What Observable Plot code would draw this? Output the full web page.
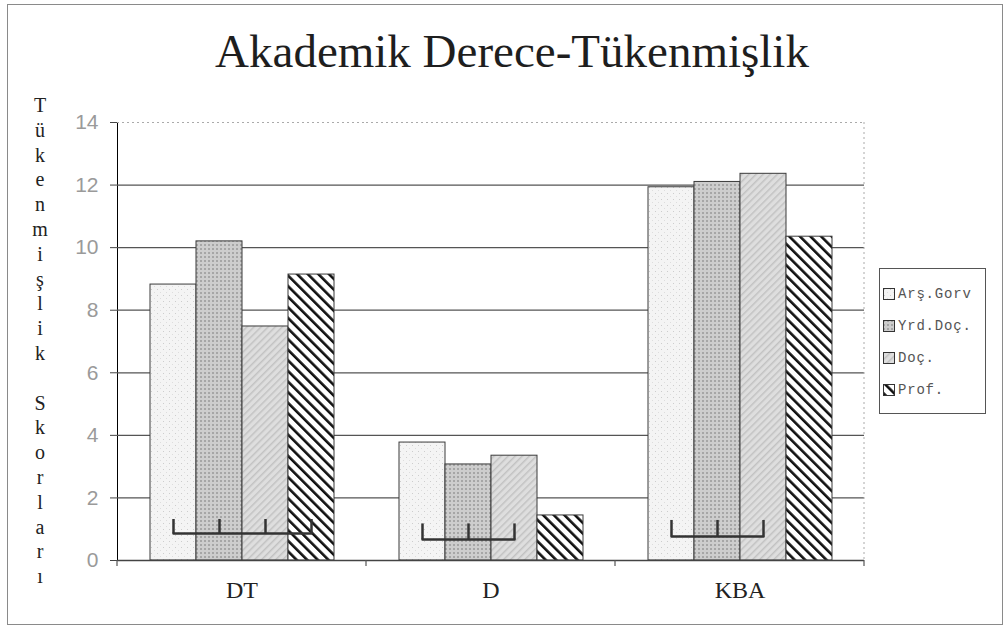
<!DOCTYPE html>
<html>
<head>
<meta charset="utf-8">
<script src="https://cdn.jsdelivr.net/npm/d3@7"></script>
<script src="https://cdn.jsdelivr.net/npm/@observablehq/plot@0.6"></script>
<style>
  html, body { margin: 0; padding: 0; background: #fff; }
  #wrap { position: relative; width: 1006px; height: 628px; overflow: hidden; background: #fff; }
  #frame { position: absolute; left: 7px; top: 4px; width: 996px; height: 621px; border: 1px solid #8a8a8a; box-sizing: border-box; }
  #chart { position: absolute; left: 0; top: 0; }
  #title { position: absolute; left: 9px; top: 28px; width: 1006px; text-align: center;
           font-family: "Liberation Serif", serif; font-size: 47px; line-height: 1; color: #1e1e1e; white-space: nowrap; }
  #ylabel { position: absolute; left: 20px; top: 93px; width: 40px; text-align: center;
            font-family: "Liberation Serif", serif; font-size: 20px; line-height: 24.8px; color: #222; white-space: pre; }
  #legend { position: absolute; left: 879px; top: 268px; width: 107px; height: 146px; box-sizing: border-box;
            border: 1px solid #555; background: #fff; }
  .lg-item { position: absolute; left: 3px; height: 14px; display: flex; align-items: center; white-space: nowrap;
             font-family: "Liberation Mono", monospace; font-size: 14px; letter-spacing: 0.8px; color: #555; }
  .lg-item svg { margin-right: 3px; }
  #chart g[aria-label^="y-axis"] text { font-family: "Liberation Sans", Arial, sans-serif; font-size: 21px; fill: #9a9a9a; }
  #chart g[aria-label^="y-axis"] line, #chart g[aria-label^="y-axis"] path { stroke: #444; }
  #chart g[aria-label^="fx-axis"] text { font-family: "Liberation Serif", serif; font-size: 24px; fill: #222; }
</style>
</head>
<body>
<svg width="0" height="0" style="position:absolute">
  <defs>
    <pattern id="pArs" patternUnits="userSpaceOnUse" width="6" height="6">
      <rect width="6" height="6" fill="#f4f4f4"/>
      <rect x="1" y="1" width="1" height="1" fill="#cdcdcd"/>
      <rect x="4" y="4" width="1" height="1" fill="#dddddd"/>
    </pattern>
    <pattern id="pYrd" patternUnits="userSpaceOnUse" width="4" height="4">
      <rect width="4" height="4" fill="#cdcdcd"/>
      <rect x="0" y="0" width="2" height="2" fill="#a6a6a6"/>
    </pattern>
    <pattern id="pDoc" patternUnits="userSpaceOnUse" width="5" height="5" patternTransform="rotate(45)">
      <rect width="5" height="5" fill="#dedede"/>
      <rect width="1.5" height="5" fill="#c2c2c2"/>
    </pattern>
    <pattern id="pProf" patternUnits="userSpaceOnUse" width="7.5" height="7.5" patternTransform="rotate(-45)">
      <rect width="7.5" height="7.5" fill="#ffffff"/>
      <rect width="2.6" height="7.5" fill="#111111"/>
    </pattern>
  </defs>
</svg>
<div id="wrap">
  <div id="frame"></div>
  <div id="chart"></div>
  <div id="title"></div>
  <div id="ylabel"></div>
  <div id="legend"></div>
</div>
<script>
// ---- data ----
const titleText = "Akademik Derece-Tükenmişlik";
const yLabelText = "Tükenmişlik Skorları";
const categories = ["DT", "D", "KBA"];
const series = ["Arş.Gorv", "Yrd.Doç.", "Doç.", "Prof."];
const valuesArs = [8.82, 3.77, 11.93];
const valuesYrd = [10.2, 3.07, 12.1];
const valuesDoc = [7.48, 3.35, 12.36];
const valuesProf = [9.14, 1.44, 10.35];
const yTicks = [0, 2, 4, 6, 8, 10, 12, 14];
const bracketLevel = [0.86, 0.67, 0.77];
const bracketTop = [1.31, 1.17, 1.28];
const bracketLast = ["Prof.", "Doç.", "Doç."];
const patternIds = ["pArs", "pYrd", "pDoc", "pProf"];

// ---- build table ----
const seriesValues = [valuesArs, valuesYrd, valuesDoc, valuesProf];
const rows = [];
categories.forEach((c, i) => {
  series.forEach((s, j) => {
    rows.push({
      category: c, series: s, value: seriesValues[j][i],
      level: bracketLevel[i], top: bracketTop[i], last: bracketLast[i],
      tick: j <= series.indexOf(bracketLast[i])
    });
  });
});

document.getElementById("title").textContent = titleText;
document.getElementById("ylabel").textContent =
  yLabelText.split("").map(ch => ch === " " ? "\u00a0" : ch).join("\n");

const chart = Plot.plot({
  width: 1006,
  height: 628,
  marginLeft: 117,
  marginRight: 142,
  marginTop: 122,
  marginBottom: 68,
  style: {background: "transparent", fontFamily: "Liberation Serif, serif", overflow: "visible"},
  facet: {data: rows, x: "category"},
  fx: {domain: categories, padding: 0, label: null, tickSize: 0, tickPadding: 20, axis: "bottom"},
  x: {domain: series, paddingInner: 0, paddingOuter: 0.667, axis: null, label: null},
  y: {domain: [0, 14], ticks: yTicks, tickSize: 7, tickPadding: 12, line: true, label: null},
  color: {domain: series, range: patternIds.map(id => `url(#${id})`)},
  marks: [
    Plot.ruleY(yTicks.filter(t => t > 0 && t < 14), {stroke: "#555", strokeWidth: 1.2}),
    Plot.ruleY(yTicks.filter(t => t === 14), {stroke: "#aaa", strokeDasharray: "2,3"}),
    Plot.barY(rows, {x: "series", y: "value", fill: "series", stroke: "#3a3a3a", strokeWidth: 1}),
    Plot.ruleY(yTicks.filter(t => t === 0), {stroke: "#444", strokeWidth: 1.5}),
    Plot.lineY(rows, {filter: d => d.tick, x: "series", y: "level", z: "category", stroke: "#333", strokeWidth: 2.5, curve: "linear"}),
    Plot.ruleX(rows, {filter: d => d.tick, x: "series", y1: "level", y2: "top", stroke: "#333", strokeWidth: 2.5})
  ]
});
document.getElementById("chart").appendChild(chart);

// facet boundary ticks and right dashed border, placed with Plot's scales
const fxS = chart.scale("fx");
const yS = chart.scale("y");
const fxPos = v => fxS.apply ? fxS.apply(v) : fxS.range[0] + categories.indexOf(v) * fxS.step;
const bw = fxS.bandwidth;
const bounds = categories.map(fxPos).concat([fxPos(categories[categories.length - 1]) + bw]);
const y0 = yS.apply(0), yTop = yS.apply(14);
const g = d3.select(chart).append("g");
bounds.forEach(b => {
  g.append("line").attr("x1", b).attr("x2", b).attr("y1", y0).attr("y2", y0 + 6)
    .attr("stroke", "#555").attr("stroke-width", 1.2);
});
const rb = bounds[bounds.length - 1];
g.append("line").attr("x1", rb).attr("x2", rb).attr("y1", yTop).attr("y2", y0)
  .attr("stroke", "#aaa").attr("stroke-dasharray", "2,3");

// legend
const legend = document.getElementById("legend");
series.forEach((s, j) => {
  const item = document.createElement("div");
  item.className = "lg-item";
  item.style.top = (18 + j * 32) + "px";
  item.innerHTML = `<svg width="12" height="12"><rect x="0.5" y="0.5" width="11" height="11" fill="url(#${patternIds[j]})" stroke="#333"/></svg>`;
  const t = document.createElement("span");
  t.textContent = s;
  item.appendChild(t);
  legend.appendChild(item);
});
</script>
</body>
</html>
